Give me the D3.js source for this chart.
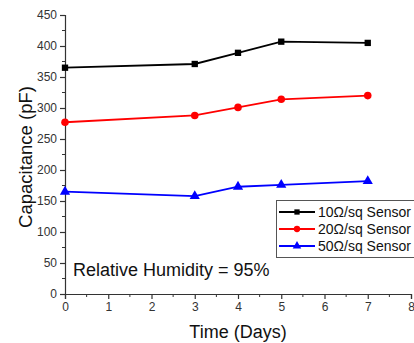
<!DOCTYPE html>
<html><head><meta charset="utf-8">
<script src="https://cdn.jsdelivr.net/npm/d3@7"></script>
<style>body{margin:0;background:#fff}svg{display:block}</style>
</head><body>
<svg id="c" width="414" height="343"></svg>
<script>
const days = [0, 3, 4, 5, 7];
const s10 = [365, 371, 389, 407, 405];
const s20 = [277, 288, 301, 314, 320];
const s50 = [165, 158, 173, 176, 182];
const seriesNames = ["10\u03A9/sq Sensor", "20\u03A9/sq Sensor", "50\u03A9/sq Sensor"];
const xTicks = [0,1,2,3,4,5,6,7,8];
const yTicks = [0,50,100,150,200,250,300,350,400,450];

const svg = d3.select("#c");
const x = d3.scaleLinear().domain([0, 8]).range([65, 411]);
const y = d3.scaleLinear().domain([0, 450]).range([294, 15]);
const axisColor = "#333";
const font = "Arial, 'Liberation Sans', sans-serif";

// minor ticks
const xMinor = d3.range(0.5, 8, 1);
const yMinor = d3.range(25, 450, 50);
svg.append("g").selectAll("line").data(xMinor).join("line")
  .attr("x1", d => x(d)).attr("x2", d => x(d)).attr("y1", y(0)).attr("y2", y(0) + 3)
  .attr("stroke", axisColor).attr("stroke-width", 1);
svg.append("g").selectAll("line").data(yMinor).join("line")
  .attr("y1", d => y(d)).attr("y2", d => y(d)).attr("x1", x(0)).attr("x2", x(0) - 3)
  .attr("stroke", axisColor).attr("stroke-width", 1);

const xAxis = svg.append("g").attr("transform", `translate(0,${y(0)})`)
  .call(d3.axisBottom(x).tickValues(xTicks).tickSize(5).tickPadding(3).tickFormat(d3.format("d")));
const yAxis = svg.append("g").attr("transform", `translate(${x(0)},0)`)
  .call(d3.axisLeft(y).tickValues(yTicks).tickSize(5).tickPadding(3).tickFormat(d3.format("d")));
[xAxis, yAxis].forEach(g => {
  g.select(".domain").attr("stroke", axisColor).attr("stroke-width", 1.2);
  g.selectAll(".tick line").attr("stroke", axisColor).attr("stroke-width", 1.2);
  g.selectAll(".tick text").attr("fill", "#333").style("font-family", font).style("font-size", "12px");
});

const series = [
  {vals: s10, color: "#000000", shape: d3.symbolSquare, size: 40},
  {vals: s20, color: "#ff0000", shape: d3.symbolCircle, size: 45},
  {vals: s50, color: "#0000ff", shape: d3.symbolTriangle, size: 45}
];
const line = d3.line().x(d => x(d[0])).y(d => y(d[1]));
series.forEach(s => {
  const pts = days.map((d, i) => [d, s.vals[i]]);
  svg.append("path").datum(pts).attr("d", line)
    .attr("fill", "none").attr("stroke", s.color).attr("stroke-width", 1.8);
  svg.append("g").selectAll("path").data(pts).join("path")
    .attr("transform", d => `translate(${x(d[0])},${y(d[1])})`)
    .attr("d", d3.symbol().type(s.shape).size(s.size))
    .attr("fill", s.color);
});

// legend
const lg = svg.append("g");
lg.append("rect").attr("x", 276.5).attr("y", 200.5).attr("width", 140).attr("height", 57)
  .attr("fill", "#fff").attr("stroke", "#555").attr("stroke-width", 1);
series.forEach((s, i) => {
  const yy = 212 + i * 17;
  lg.append("line").attr("x1", 279).attr("x2", 315).attr("y1", yy).attr("y2", yy)
    .attr("stroke", s.color).attr("stroke-width", 1.8);
  lg.append("path").attr("transform", `translate(297,${yy})`)
    .attr("d", d3.symbol().type(s.shape).size(s.size * 0.7)).attr("fill", s.color);
  lg.append("text").attr("x", 318).attr("y", yy + 5).text(seriesNames[i])
    .style("font-family", font).style("font-size", "14px").attr("fill", "#111");
});

svg.append("text").attr("x", 73).attr("y", 276).text("Relative Humidity = 95%")
  .style("font-family", font).style("font-size", "18px").attr("fill", "#111");
svg.append("text").attr("x", 238).attr("y", 338).attr("text-anchor", "middle").text("Time (Days)")
  .style("font-family", font).style("font-size", "18px").attr("fill", "#111");
svg.append("text").attr("transform", "translate(32,157) rotate(-90)").attr("text-anchor", "middle")
  .text("Capacitance (pF)").style("font-family", font).style("font-size", "18.5px").attr("fill", "#111");
</script>
</body></html>
